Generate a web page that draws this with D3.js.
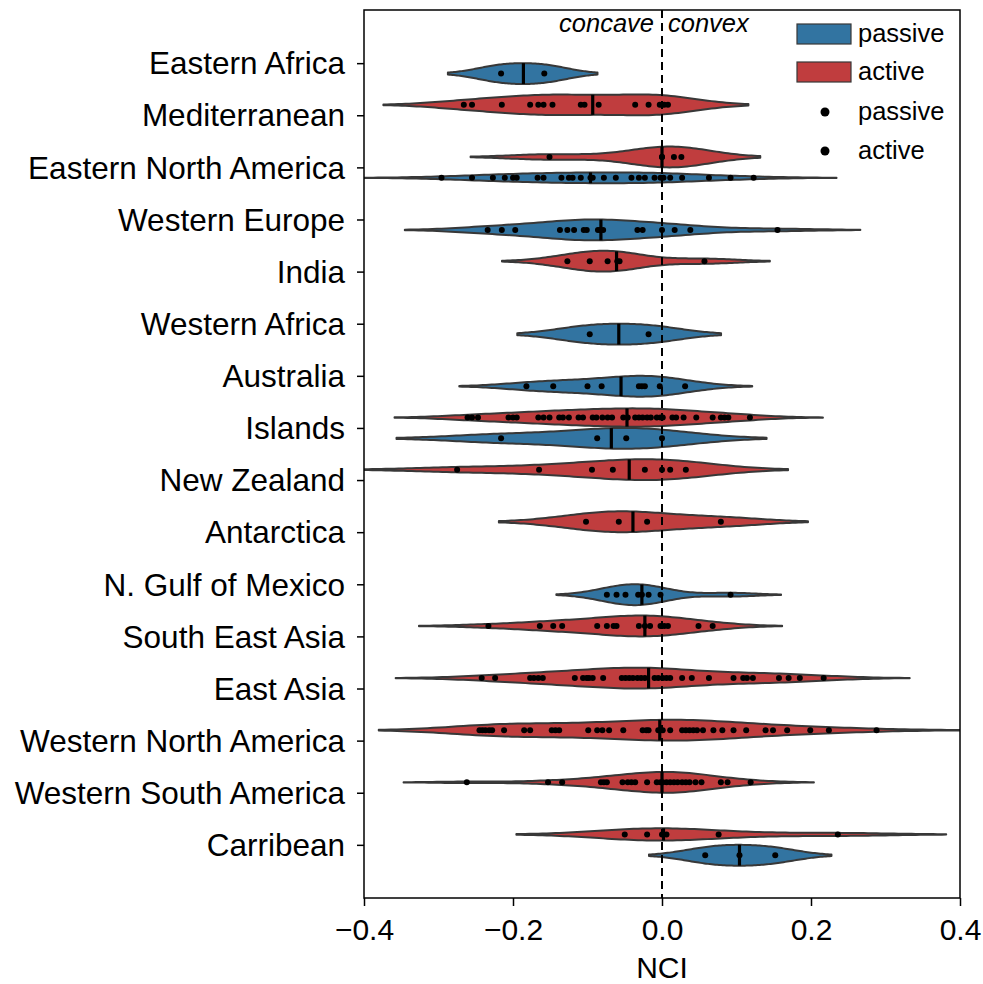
<!DOCTYPE html>
<html>
<head>
<meta charset="utf-8">
<script src="https://cdn.jsdelivr.net/npm/d3@7"></script>
<style>
  html, body { margin: 0; padding: 0; background: #fff; }
  svg { display: block; }
  text { font-family: "Liberation Sans", Arial, Helvetica, sans-serif; }
</style>
</head>
<body>
<script>
// ---------------- DATA ----------------
const categories = [
  "Eastern Africa", "Mediterranean", "Eastern North America", "Western Europe",
  "India", "Western Africa", "Australia", "Islands", "New Zealand", "Antarctica",
  "N. Gulf of Mexico", "South East Asia", "East Asia", "Western North America",
  "Western South America", "Carribean"
];
const hues = ["passive", "active"];
const xTicks = [-0.4, -0.2, 0.0, 0.2, 0.4];

const easternAfricaPassive = [-0.216, -0.158];
const mediterraneanActive = [-0.266, -0.255, -0.215, -0.177, -0.166, -0.159, -0.147, -0.109, -0.104, -0.085, -0.036, -0.018, -0.003, 0.000, 0.003, 0.008];
const easternNorthAmericaActive = [-0.151, 0.000, 0.000, 0.016, 0.026];
const easternNorthAmericaPassive = [-0.296, -0.255, -0.227, -0.211, -0.200, -0.195, -0.167, -0.159, -0.135, -0.125, -0.120, -0.109, -0.096, -0.093, -0.078, -0.062, -0.041, -0.031, -0.023, -0.010, -0.002, 0.002, 0.011, 0.027, 0.063, 0.092, 0.123];
const westernEuropePassive = [-0.234, -0.215, -0.197, -0.137, -0.127, -0.118, -0.105, -0.101, -0.086, -0.083, -0.079, -0.033, -0.026, 0.000, 0.017, 0.038, 0.155];
const indiaActive = [-0.127, -0.097, -0.073, -0.060, -0.057, 0.057];
const westernAfricaPassive = [-0.097, -0.018];
const australiaPassive = [-0.182, -0.146, -0.100, -0.081, -0.031, -0.027, -0.023, -0.003, 0.031];
const islandsActive = [-0.261, -0.255, -0.247, -0.206, -0.200, -0.195, -0.166, -0.159, -0.151, -0.138, -0.133, -0.125, -0.112, -0.106, -0.093, -0.088, -0.080, -0.073, -0.067, -0.052, -0.046, -0.036, -0.031, -0.026, -0.020, -0.015, -0.007, -0.002, 0.001, 0.014, 0.019, 0.029, 0.046, 0.068, 0.079, 0.084, 0.089, 0.118];
const islandsPassive = [-0.216, -0.087, -0.048, 0.000];
const newZealandActive = [-0.275, -0.165, -0.094, -0.066, -0.023, 0.000, 0.011, 0.032];
const antarcticaActive = [-0.102, -0.058, -0.020, 0.079];
const gulfOfMexicoPassive = [-0.074, -0.061, -0.049, -0.032, -0.027, -0.018, -0.002, 0.092];
const southEastAsiaActive = [-0.233, -0.164, -0.146, -0.134, -0.087, -0.074, -0.065, -0.061, -0.031, -0.023, -0.016, -0.002, 0.003, 0.008, 0.049, 0.068];
const eastAsiaActive = [-0.242, -0.224, -0.177, -0.172, -0.166, -0.160, -0.117, -0.106, -0.101, -0.098, -0.093, -0.079, -0.054, -0.049, -0.044, -0.039, -0.033, -0.028, -0.023, -0.010, -0.005, 0.001, 0.006, 0.011, 0.027, 0.040, 0.063, 0.096, 0.109, 0.114, 0.122, 0.157, 0.170, 0.185, 0.217];
const westernNorthAmericaActive = [-0.245, -0.241, -0.237, -0.232, -0.228, -0.212, -0.185, -0.177, -0.148, -0.143, -0.138, -0.099, -0.087, -0.080, -0.071, -0.052, -0.026, -0.021, -0.018, -0.005, -0.002, 0.001, 0.011, 0.027, 0.032, 0.037, 0.042, 0.047, 0.055, 0.069, 0.081, 0.096, 0.113, 0.139, 0.149, 0.168, 0.199, 0.224, 0.288];
const westernSouthAmericaActive = [-0.262, -0.153, -0.134, -0.082, -0.078, -0.074, -0.053, -0.046, -0.041, -0.036, -0.020, -0.007, -0.002, 0.001, 0.006, 0.011, 0.016, 0.021, 0.027, 0.032, 0.037, 0.045, 0.053, 0.079, 0.088, 0.119];
const carribeanActive = [-0.050, -0.020, 0.000, 0.006, 0.076, 0.236];
const carribeanPassive = [0.058, 0.104, 0.152];

// one entry per violin
const groupCategories = ["Eastern Africa", "Mediterranean", "Eastern North America", "Eastern North America", "Western Europe", "India", "Western Africa", "Australia", "Islands", "Islands", "New Zealand", "Antarctica", "N. Gulf of Mexico", "South East Asia", "East Asia", "Western North America", "Western South America", "Carribean", "Carribean"];
const groupHues = ["passive", "active", "active", "passive", "passive", "active", "passive", "passive", "active", "passive", "active", "active", "passive", "active", "active", "active", "active", "active", "passive"];
const groupValues = [easternAfricaPassive, mediterraneanActive, easternNorthAmericaActive, easternNorthAmericaPassive, westernEuropePassive, indiaActive, westernAfricaPassive, australiaPassive, islandsActive, islandsPassive, newZealandActive, antarcticaActive, gulfOfMexicoPassive, southEastAsiaActive, eastAsiaActive, westernNorthAmericaActive, westernSouthAmericaActive, carribeanActive, carribeanPassive];
const groupMedians = [-0.186, -0.093, 0.000, -0.096, -0.082, -0.061, -0.058, -0.055, -0.047, -0.068, -0.044, -0.039, -0.027, -0.023, -0.018, -0.003, 0.000, 0.002, 0.104];

// ---------------- DRAW ----------------
const W = 983, H = 984;
const L = 364, R = 960, T = 10, B = 898;
const svg = d3.select("body").append("svg").attr("width", W).attr("height", H);

const x = d3.scaleLinear().domain([-0.4, 0.4]).range([L, R]);
const y = d3.scaleLinear().domain([-1.02, 16.02]).range([T, B]);
const band = y(1) - y(0);
const hueOffset = { active: -0.2, passive: 0.2 };
const hueColor = { passive: "#3274a1", active: "#c03d3e" };
const edgeColor = "#383838";

function kde(values) {
  const n = values.length;
  const sd = d3.deviation(values);
  const bw = sd * Math.pow(n, -0.2);
  const lo = d3.min(values) - 2 * bw, hi = d3.max(values) + 2 * bw;
  const dens = v => d3.sum(values, xi => Math.exp(-0.5 * ((v - xi) / bw) ** 2)) / (n * bw * Math.sqrt(2 * Math.PI));
  const grid = d3.range(100).map(i => lo + (hi - lo) * i / 99);
  return { pts: grid.map(v => ({ v, d: dens(v) })), dens };
}

const groups = groupValues.map((vals, i) => {
  const k = kde(vals);
  return {
    cat: groupCategories[i], hue: groupHues[i], values: vals, median: groupMedians[i],
    kde: k, maxD: d3.max(k.pts, p => p.d)
  };
});
// area scaling within each category (scale_hue)
const catMax = d3.rollup(groups, g => d3.max(g, d => d.maxD), d => d.cat);
const halfW = 0.2 * band;

svg.append("defs").append("clipPath").attr("id", "plotclip")
  .append("rect").attr("x", L).attr("y", T).attr("width", R - L).attr("height", B - T);

const plot = svg.append("g").attr("clip-path", "url(#plotclip)");

groups.forEach(g => {
  const cy = y(categories.indexOf(g.cat) + hueOffset[g.hue]);
  const s = halfW / catMax.get(g.cat);
  const area = d3.area()
    .x(p => x(p.v))
    .y0(p => cy - p.d * s)
    .y1(p => cy + p.d * s);
  plot.append("path")
    .attr("d", area(g.kde.pts))
    .attr("fill", hueColor[g.hue])
    .attr("stroke", edgeColor)
    .attr("stroke-width", 2)
    .attr("stroke-linejoin", "round");
  g.cy = cy; g.s = s;
});

// points
groups.forEach(g => {
  plot.append("g").selectAll("circle").data(g.values).join("circle")
    .attr("cx", v => x(v)).attr("cy", g.cy).attr("r", 3).attr("fill", "#000");
});

// median lines
groups.forEach(g => {
  const w = g.kde.dens(g.median) * g.s;
  plot.append("line")
    .attr("x1", x(g.median)).attr("x2", x(g.median))
    .attr("y1", g.cy - w).attr("y2", g.cy + w)
    .attr("stroke", "#000").attr("stroke-width", 3.2);
});

// zero dashed line
svg.append("line")
  .attr("x1", x(0)).attr("x2", x(0)).attr("y1", T).attr("y2", B)
  .attr("stroke", "#000").attr("stroke-width", 2).attr("stroke-dasharray", "8,5");

// frame
svg.append("rect").attr("x", L).attr("y", T).attr("width", R - L).attr("height", B - T)
  .attr("fill", "none").attr("stroke", "#000").attr("stroke-width", 1.5);

// axes
const xAxis = svg.append("g").attr("transform", `translate(0,${B})`)
  .call(d3.axisBottom(x).tickValues(xTicks).tickFormat(d3.format(".1f")).tickSize(8).tickPadding(13));
xAxis.select(".domain").remove();
xAxis.selectAll("line").attr("stroke-width", 1.5);
xAxis.selectAll("text").attr("font-size", 30).attr("fill", "#000");

const yAxis = svg.append("g").attr("transform", `translate(${L},0)`)
  .call(d3.axisLeft(y).tickValues(d3.range(categories.length)).tickFormat(i => categories[i]).tickSize(7).tickPadding(12));
yAxis.select(".domain").remove();
yAxis.selectAll("line").attr("stroke-width", 1.5);
yAxis.selectAll("text").attr("font-size", 31.5).attr("fill", "#000").attr("dy", "0.34em");

svg.append("text").attr("x", x(0)).attr("y", 978).attr("text-anchor", "middle")
  .attr("font-size", 30).text("NCI");

// concave / convex
svg.append("text").attr("x", x(0) - 8).attr("y", 32).attr("text-anchor", "end")
  .attr("font-size", 25.5).attr("font-style", "italic").text("concave");
svg.append("text").attr("x", x(0) + 6).attr("y", 32).attr("text-anchor", "start")
  .attr("font-size", 25.5).attr("font-style", "italic").text("convex");

// legend
const leg = svg.append("g");
const legRows = [
  { kind: "patch", hue: "passive", cy: 34 },
  { kind: "patch", hue: "active", cy: 72 },
  { kind: "dot", hue: "passive", cy: 112 },
  { kind: "dot", hue: "active", cy: 151 }
];
legRows.forEach(r => {
  if (r.kind === "patch") {
    leg.append("rect").attr("x", 797).attr("y", r.cy - 10).attr("width", 54).attr("height", 20)
      .attr("fill", hueColor[r.hue]).attr("stroke", edgeColor).attr("stroke-width", 1.2);
  } else {
    leg.append("circle").attr("cx", 825).attr("cy", r.cy).attr("r", 4.5).attr("fill", "#000");
  }
  leg.append("text").attr("x", 858).attr("y", r.cy + 8).attr("font-size", 25.5).text(r.hue);
});
</script>
</body>
</html>
